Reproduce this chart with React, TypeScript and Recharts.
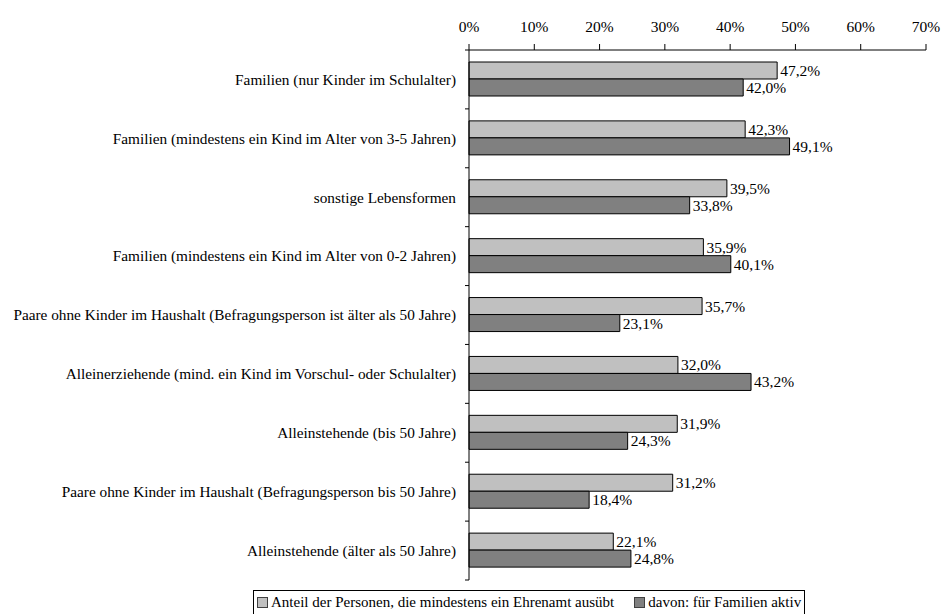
import React from 'react';
import { BarChart, Bar, XAxis, YAxis, LabelList, Legend } from 'recharts';

const categories = [
  'Familien (nur Kinder im Schulalter)',
  'Familien (mindestens ein Kind im Alter von 3-5 Jahren)',
  'sonstige Lebensformen',
  'Familien (mindestens ein Kind im Alter von 0-2 Jahren)',
  'Paare ohne Kinder im Haushalt (Befragungsperson ist älter als 50 Jahre)',
  'Alleinerziehende (mind. ein Kind im Vorschul- oder Schulalter)',
  'Alleinstehende (bis 50 Jahre)',
  'Paare ohne Kinder im Haushalt (Befragungsperson bis 50 Jahre)',
  'Alleinstehende (älter als 50 Jahre)',
];
const anteilEhrenamt = [47.2, 42.3, 39.5, 35.9, 35.7, 32.0, 31.9, 31.2, 22.1];
const fuerFamilien = [42.0, 49.1, 33.8, 40.1, 23.1, 43.2, 24.3, 18.4, 24.8];
const xTicks = [0, 10, 20, 30, 40, 50, 60, 70];
const seriesNames = [
  'Anteil der Personen, die mindestens ein Ehrenamt ausübt',
  'davon: für Familien aktiv',
];

const data = categories.map((c, i) => ({ name: c, a: anteilEhrenamt[i], b: fuerFamilien[i] }));

const FONT = '"Liberation Serif", "Times New Roman", serif';
const W = 944;
const H = 614;
const PLOT_LEFT = 469;
const PLOT_TOP = 50;
const PLOT_BOTTOM = 580;
const PLOT_RIGHT = 926;
const BAND = (PLOT_BOTTOM - PLOT_TOP) / categories.length;
const LIGHT = '#C0C0C0';
const DARK = '#808080';

const YTick = (props: any) => {
  const { x, y, payload, index } = props;
  const bottom = y + BAND / 2;
  return (
    <g>
      <text x={x} y={y} dy="0.35em" textAnchor="end" fontSize={15.3} fontFamily={FONT} fill="#000">
        {payload.value}
      </text>
      <line x1={PLOT_LEFT - 4} x2={PLOT_LEFT} y1={bottom} y2={bottom} stroke="#000" />
      {index === 0 && (
        <line x1={PLOT_LEFT - 4} x2={PLOT_LEFT} y1={y - BAND / 2} y2={y - BAND / 2} stroke="#000" />
      )}
    </g>
  );
};

const LegendContent = () => (
  <div
    style={{
      border: '1px solid #000',
      display: 'flex',
      alignItems: 'center',
      padding: '3px 3px 4px 3px',
      fontFamily: FONT,
      fontSize: 15,
      lineHeight: '17px',
      color: '#000',
      whiteSpace: 'nowrap',
      background: '#fff',
    }}
  >
    {seriesNames.map((n, i) => (
      <span key={n} style={{ display: 'inline-flex', alignItems: 'center', marginRight: i === 0 ? 20 : 0 }}>
        <span
          style={{
            display: 'inline-block',
            width: 9,
            height: 9,
            background: i === 0 ? LIGHT : DARK,
            border: '1px solid #404040',
            marginRight: 3,
          }}
        />
        {n}
      </span>
    ))}
  </div>
);

const fmt = (v: any) => `${Number(v).toFixed(1).replace('.', ',')}%`;

export default function App() {
  return (
    <div style={{ position: 'absolute', left: 0, top: 0, width: W, height: H, background: '#fff' }}>
      <BarChart
        width={W}
        height={H}
        data={data}
        layout="vertical"
        margin={{ top: PLOT_TOP - 30, right: W - PLOT_RIGHT, bottom: H - PLOT_BOTTOM, left: 0 }}
        barSize={17}
        barGap={0}
      >
        <XAxis
          xAxisId="top"
          type="number"
          orientation="top"
          domain={[0, 70]}
          ticks={xTicks}
          interval={0}
          height={30}
          tickFormatter={(v: number) => `${v}%`}
          tick={{ fontSize: 15.5, fontFamily: FONT, fill: '#000' }}
          tickSize={6}
          tickMargin={12}
          axisLine={{ stroke: '#000' }}
          tickLine={{ stroke: '#000' }}
        />
        <XAxis
          xAxisId="bottom"
          type="number"
          orientation="bottom"
          domain={[0, 70]}
          height={0}
          tick={false}
          tickLine={false}
          axisLine={{ stroke: '#808080' }}
        />
        <YAxis
          yAxisId="left"
          type="category"
          dataKey="name"
          width={PLOT_LEFT}
          interval={0}
          tick={<YTick />}
          tickLine={false}
          tickMargin={9}
          tickSize={4}
          axisLine={{ stroke: '#000' }}
        />
        <YAxis
          yAxisId="right"
          type="category"
          dataKey="name"
          orientation="right"
          width={0}
          tick={false}
          tickLine={false}
          axisLine={{ stroke: '#808080' }}
        />
        <Legend
          verticalAlign="middle"
          align="center"
          layout="horizontal"
          wrapperStyle={{ left: 253, top: 590, width: 'auto' }}
          content={<LegendContent />}
        />
        <Bar
          dataKey="a"
          name={seriesNames[0]}
          xAxisId="top"
          yAxisId="left"
          fill={LIGHT}
          stroke="#000"
          strokeWidth={1}
          isAnimationActive={false}
        >
          <LabelList dataKey="a" position="right" offset={3} formatter={fmt} fontSize={15.5} fontFamily={FONT} fill="#000" />
        </Bar>
        <Bar
          dataKey="b"
          name={seriesNames[1]}
          xAxisId="top"
          yAxisId="left"
          fill={DARK}
          stroke="#000"
          strokeWidth={1}
          isAnimationActive={false}
        >
          <LabelList dataKey="b" position="right" offset={3} formatter={fmt} fontSize={15.5} fontFamily={FONT} fill="#000" />
        </Bar>
      </BarChart>
    </div>
  );
}
